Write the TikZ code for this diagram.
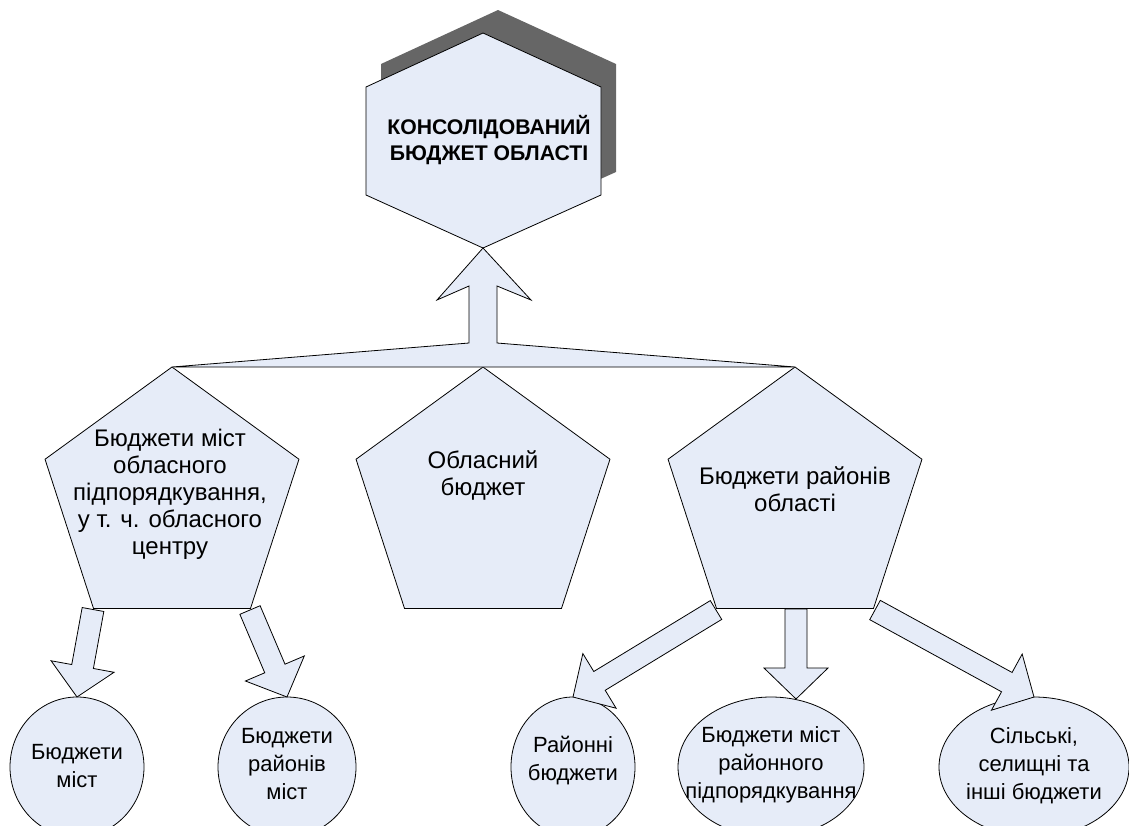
\documentclass[tikz,border=0pt]{standalone}
\usepackage{fontspec}
\setmainfont{Liberation Sans}
\usetikzlibrary{shapes.geometric,calc}
\definecolor{fillc}{RGB}{230,236,248}
\definecolor{shad}{RGB}{102,102,102}
\tikzset{
  shapeline/.style={draw=black, line width=0.8pt, fill=fillc, line join=miter},
  pent/.style={shapeline, regular polygon, regular polygon sides=5, minimum size=267pt, inner sep=0pt, outer sep=0pt},
  oval/.style={shapeline, ellipse, inner sep=0pt, outer sep=0pt, minimum height=140pt},
  ptxt/.style={align=center, font=\fontsize{24}{27}\selectfont, inner sep=0pt},
  txt/.style={align=center, font=\fontsize{22}{28}\selectfont, inner sep=0pt},
  hextxt/.style={align=center, font=\fontsize{21.2}{26.5}\selectfont\bfseries, inner sep=0pt},
  barrow/.style={shapeline},
}
\newcommand{\blockarr}[2]{%
  \coordinate (#1hb) at ($(#2)!31pt!(#1)$);
  \draw[barrow] ($(#1)!11pt!90:(#2)$) -- ($(#1hb)!11pt!90:(#2)$) -- ($(#1hb)!32pt!90:(#2)$) -- (#2)
     -- ($(#1hb)!32pt!-90:(#2)$) -- ($(#1hb)!11pt!-90:(#2)$) -- ($(#1)!11pt!-90:(#2)$) -- cycle;
}
\begin{document}
\begin{tikzpicture}[x=1pt,y=-1pt]
\useasboundingbox (0,0) rectangle (1129,825);
\clip (0,0) rectangle (1129,825);
% hexagon with shadow
\fill[shad] (498,10) -- (381,64) -- (381,172) -- (498,225) -- (616,172) -- (616,64) -- cycle;
\coordinate (hxt) at (483,33);
\coordinate (hxul) at (366,87);
\coordinate (hxll) at (366,195);
\coordinate (hxb) at (483,248);
\coordinate (hxlr) at (601,195);
\coordinate (hxur) at (601,87);
\draw[shapeline] (hxt) -- (hxul) -- (hxll) -- (hxb) -- (hxlr) -- (hxur) -- cycle;
\node[hextxt] (hex) at (489,140) {КОНСОЛІДОВАНИЙ\\БЮДЖЕТ ОБЛАСТІ};
% pentagons
\node[pent] (p1) at (172,500.5) {};
\node[pent] (p2) at (483,500.5) {};
\node[pent] (p3) at (795,500.5) {};
\node[ptxt] (tp1) at (170,494) {Бюджети міст\\обласного\\підпорядкування,\\у т. ч. обласного\\центру};
\node[ptxt] (tp2) at (483,475) {Обласний\\бюджет};
\node[ptxt] (tp3) at (795,489) {Бюджети районів\\області};
% big arrow up
\draw[shapeline] (p1.corner 1) -- (469,343) -- (469,286) -- (437,300) -- (hxb) -- (531,300) -- (497,286) -- (497,343) -- (p3.corner 1) -- cycle;
% ellipses
\node[oval, minimum width=134pt] (e1) at (77,767) {};
\node[oval, minimum width=138pt] (e2) at (287,767) {};
\node[oval, minimum width=124pt] (e3) at (573,767) {};
\node[oval, minimum width=186pt] (e4) at (771,767) {};
\node[oval, minimum width=190pt] (e5) at (1034,767) {};
\node[txt] (t1) at (77,766) {Бюджети\\міст};
\node[txt] (t2) at (287,764) {Бюджети\\районів\\міст};
\node[txt] (t3) at (573,761) {Районні\\бюджети};
\node[txt] (t4) at (771,765) {Бюджети міст\\районного\\підпорядкування};
\node[txt] (t5) at (1034,766) {Сільські,\\селищні та\\інші бюджети};
% block arrows
\coordinate (sA) at (93,609.5);
\coordinate (sB) at (250,610);
\coordinate (sC) at (716,610);
\coordinate (sD) at (796,609);
\coordinate (sE) at (875,610);
\coordinate (tD) at (796,699);
\blockarr{sA}{e1.north}
\blockarr{sB}{e2.north}
\blockarr{sC}{e3.north}
\blockarr{sD}{tD}
\blockarr{sE}{e5.north}
\end{tikzpicture}
\end{document}
